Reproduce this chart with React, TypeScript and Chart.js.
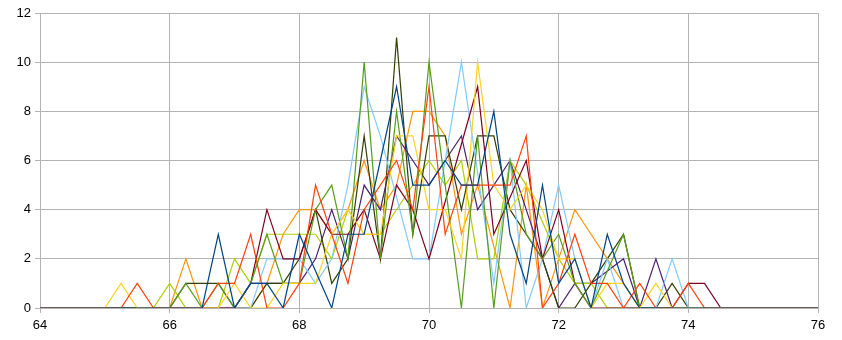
import React, { useEffect, useRef } from "react";
import { Chart, registerables } from "chart.js";

Chart.register(...registerables);

const X = [
  64, 64.25, 64.5, 64.75, 65, 65.25, 65.5, 65.75, 66, 66.25,
  66.5, 66.75, 67, 67.25, 67.5, 67.75, 68, 68.25, 68.5, 68.75,
  69, 69.25, 69.5, 69.75, 70, 70.25, 70.5, 70.75, 71, 71.25,
  71.5, 71.75, 72, 72.25, 72.5, 72.75, 73, 73.25, 73.5, 73.75,
  74, 74.25, 74.5, 74.75, 75, 75.25, 75.5, 75.75, 76,
];

const darkBlue = [0,0,0,0,0,0,0,0,0,0, 0,3,0,1,1,0,3,null,0,3, 3,6,9,5,5,6,5,5,8,3, 1,5,1,2,0,3,1,0,0,0, 0,0,0,0,0,0,0,0,0];
const red = [0,0,0,0,0,0,1,0,0,0, 0,1,1,3,0,0,1,5,3,1, 4,5,6,4,9,3,5,5,5,5, 7,0,1,3,1,1,0,1,0,0, 1,0,0,0,0,0,0,0,0];
const yellow = [0,0,0,0,0,1,0,0,0,0, 0,0,1,0,0,1,1,1,3,4, 3,3,7,7,4,4,2,10,5,4, 5,4,2,2,0,1,1,0,1,0, 0,0,0,0,0,0,0,0,0];
const green = [0,0,0,0,0,0,0,0,0,1, 0,1,0,1,3,1,1,4,5,2, 10,2,8,3,10,5,0,7,0,6, 3,2,3,1,0,null,3,0,0,0, 0,0,0,0,0,0,0,0,0];
const maroon = [0,0,0,0,0,0,0,0,0,0, 0,0,0,1,4,2,2,4,3,3, 4,2,5,4,2,null,null,9,3,null, 6,2,4,1,0,0,0,0,0,0, 1,1,0,0,0,0,0,0,0];
const lightBlue = [0,0,0,0,0,0,0,0,0,0, 0,0,0,0,2,2,2,1,2,5, 9,7,null,2,2,null,10,null,1,6, 0,2,5,2,0,2,0,0,0,2, 0,0,0,0,0,0,0,0,0];
const olive = [0,0,0,0,0,0,0,0,0,1, 1,1,0,0,1,1,2,4,1,2, 7,2,11,3,7,7,4,7,7,4, 3,2,0,0,1,2,3,0,0,1, 0,0,0,0,0,0,0,0,0];
const lime = [0,0,0,0,0,0,0,0,1,0, 0,0,2,1,3,3,3,3,2,4, 3,3,null,null,6,5,6,2,2,6, 5,null,2,1,1,0,0,0,0,0, 0,0,0,0,0,0,0,0,0];
const purple = [0,0,0,0,0,0,0,0,0,0, 0,0,0,1,1,1,1,2,4,2, 5,4,7,6,5,6,7,4,5,6, 4,2,0,1,1,null,2,0,2,0, 0,0,0,0,0,0,0,0,0];
const orange = [0,0,0,0,0,0,0,0,0,2, 0,0,0,0,1,3,4,4,3,4, 6,4,5,8,8,7,3,5,null,0, 5,0,2,4,3,2,1,0,0,0, 0,0,0,0,0,0,0,0,0];

const SERIES: [string, (number | null)[], string][] = [
  ["Series 1", darkBlue, "#004586"],
  ["Series 2", red, "#ff420e"],
  ["Series 3", yellow, "#ffd320"],
  ["Series 4", green, "#579d1c"],
  ["Series 5", maroon, "#7e0021"],
  ["Series 6", lightBlue, "#83caff"],
  ["Series 7", olive, "#314004"],
  ["Series 8", lime, "#aecf00"],
  ["Series 9", purple, "#4b1f6f"],
  ["Series 10", orange, "#ff950e"],
];

export default function App() {
  const ref = useRef<HTMLCanvasElement>(null);
  useEffect(() => {
    document.body.style.margin = "0";
    const ctx = ref.current!;
    const chart = new Chart(ctx, {
      type: "scatter",
      data: {
        datasets: SERIES.map(([label, ys, color]) => ({
          label,
          data: X.map((x, i) => ({ x, y: ys[i] as any })),
          borderColor: color,
          backgroundColor: color,
          borderWidth: 1.2,
          showLine: true,
          pointRadius: 0,
          spanGaps: true,
          tension: 0,
        })),
      },
      options: {
        animation: false,
        responsive: false,
        maintainAspectRatio: false,
        layout: { padding: { left: 0, top: 13, right: 24, bottom: 0 } },
        plugins: { legend: { display: false }, tooltip: { enabled: false } },
        scales: {
          x: {
            type: "linear",
            min: 64,
            max: 76,
            ticks: {
              stepSize: 2,
              color: "#000",
              font: { family: "Liberation Sans", size: 13 },
              padding: 5,
            },
            grid: { color: "#b3b3b3", tickLength: 5 },
            border: { color: "#b3b3b3" },
            afterFit: (s: any) => {
              s.height = 32;
            },
          },
          y: {
            min: 0,
            max: 12,
            ticks: {
              stepSize: 2,
              color: "#000",
              font: { family: "Liberation Sans", size: 13 },
              padding: 4,
            },
            grid: { color: "#b3b3b3", tickLength: 5 },
            border: { color: "#b3b3b3" },
            afterFit: (s: any) => {
              s.width = 40;
            },
          },
        },
      },
    });
    return () => chart.destroy();
  }, []);
  return (
    <div style={{ width: 842, height: 340 }}>
      <canvas ref={ref} width={842} height={340} />
    </div>
  );
}
